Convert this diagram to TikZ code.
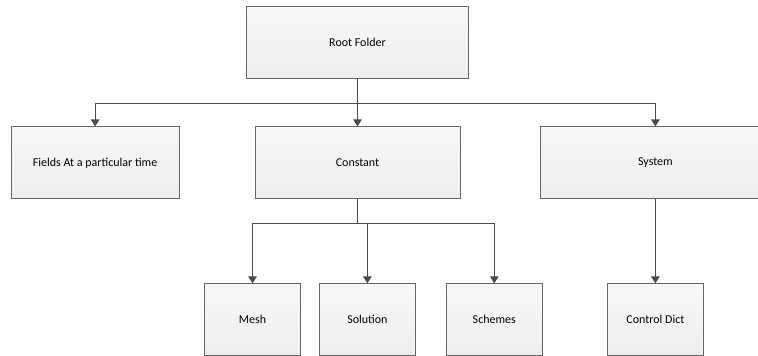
\documentclass[tikz,border=0pt]{standalone}
\usepackage{fontspec}
\setmainfont{Carlito}
\usepackage{xcolor}
\usetikzlibrary{arrows.meta,positioning}
\definecolor{fdline}{HTML}{4A4A4A}
\definecolor{fdedge}{HTML}{666666}
\definecolor{fdfill}{HTML}{EEEEEE}
\tikzset{
  folder/.style={draw=fdedge,line width=0.9pt,top color=white!97!black,bottom color=fdfill,
    minimum height=72pt,align=center,font=\fontsize{12}{14}\selectfont,inner sep=2pt},
  leaf/.style={folder,minimum width=96pt},
  arr/.style={-{Triangle[length=7pt,width=8.5pt]},line width=1.2pt,color=fdline},
}
\begin{document}
\begin{tikzpicture}[x=1pt,y=1pt]
\useasboundingbox (0,0) rectangle (758,-356);
\node[folder,minimum width=222pt] (root) at (357.5,-42) {Root Folder};
\node[folder,minimum width=205pt,below=48pt of root] (con) {Constant};
\node[folder,minimum width=168pt,left=75pt of con] (fld) {Fields At a particular time};
\node[folder,minimum width=229pt,right=80pt of con] (sys) {System};
\node[leaf,below=84pt of con,xshift=-105pt] (mesh) {Mesh};
\node[leaf,right=18pt of mesh] (sol) {Solution};
\node[leaf,right=30pt of sol] (sch) {Schemes};
\node[leaf,below=84pt of sys] (ctl) {Control Dict};
\draw[arr] (root.south) -- ++(0,-25) -| (fld.north);
\draw[arr] (root) -- (con);
\draw[arr] (root.south) -- ++(0,-25) -| (sys.north);
\draw[arr] (con.south) -- ++(0,-24) -| (mesh.north);
\draw[arr] (con.south) -- ++(0,-24) -| (sol.north);
\draw[arr] (con.south) -- ++(0,-24) -| (sch.north);
\draw[arr] (sys) -- (ctl);
\end{tikzpicture}
\end{document}
